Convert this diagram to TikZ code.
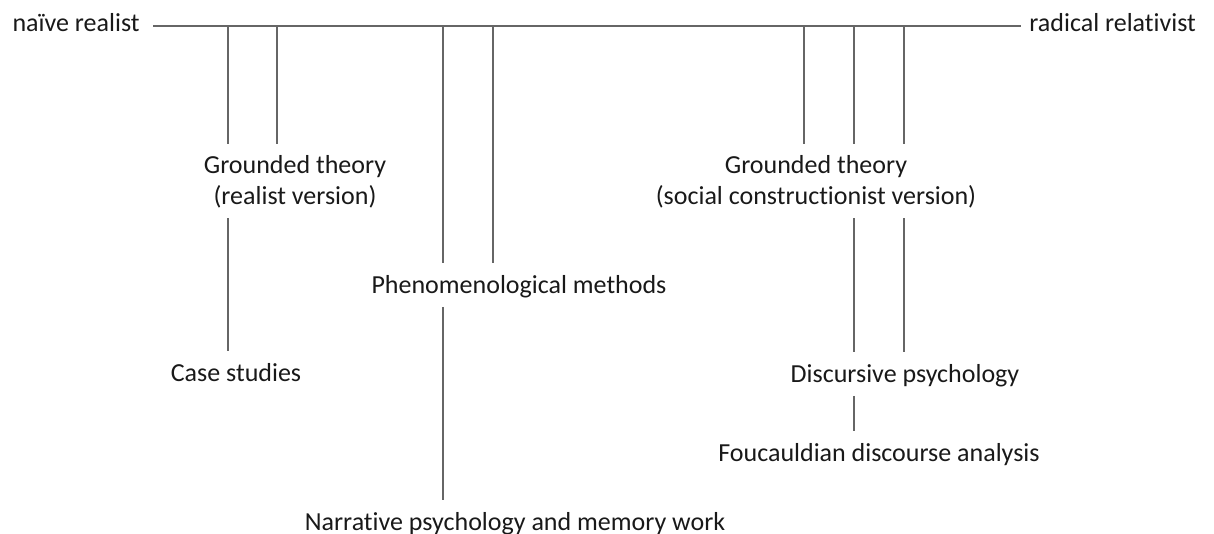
\documentclass[tikz,border=0pt]{standalone}
\usepackage{fontspec}
\setmainfont{Carlito}[Ligatures=NoCommon]
\tikzset{
  lbl/.style={font=\fontsize{13}{15.5}\selectfont, text=black!90, inner xsep=0pt, inner ysep=4.5pt, align=center},
  rail/.style={draw=black!60, line width=0.55pt},
  drop/.style={rail, shorten >=1.5pt}
}
\begin{document}
\begin{tikzpicture}[x=0.5pt,y=-0.5pt]
            \useasboundingbox (0,0) rectangle (1214,534);
            % the two ends of the scale
            \node[lbl, anchor=base east] (naive) at (140,32) {naïve realist};
            \node[lbl, anchor=base west] (radical) at (1029,32) {radical relativist};
            \coordinate (t1) at (228,26);
            \coordinate (t2) at (277,26);
            \coordinate (t3) at (443,26);
            \coordinate (t4) at (493,26);
            \coordinate (t5) at (804,26);
            \coordinate (t6) at (854,26);
            \coordinate (t7) at (904,26);
            \draw[rail, shorten <=6.5pt, shorten >=4pt] (naive.east |- t1) -- (radical.west |- t1);
            % methods
            \node[lbl, anchor=base] (gtr) at (295,205) {Grounded theory\\(realist version)};
            \node[lbl, anchor=base] (case) at (236,381) {Case studies};
            \node[lbl, anchor=base] (phen) at (519,293) {Phenomenological methods};
            \node[lbl, anchor=base] (narr) at (515,530) {Narrative psychology and memory work};
            \node[lbl, anchor=base] (gts) at (816,205) {Grounded theory\\(social constructionist version)};
            \node[lbl, anchor=base] (disc) at (905,382) {Discursive psychology};
            \node[lbl, anchor=base] (fouc) at (879,461) {Foucauldian discourse analysis};
            % drops from the scale
            \draw[drop] (t1) -- (t1 |- gtr.north);
            \draw[drop] (t2) -- (t2 |- gtr.north);
            \draw[drop] (t3) -- (t3 |- phen.north);
            \draw[drop] (t4) -- (t4 |- phen.north);
            \draw[drop] (t5) -- (t5 |- gts.north);
            \draw[drop] (t6) -- (t6 |- gts.north);
            \draw[drop] (t7) -- (t7 |- gts.north);
            % links between methods
            \draw[drop] (gtr.south -| t1) -- (t1 |- case.north);
            \draw[drop] (phen.south -| t3) -- (t3 |- narr.north);
            \draw[drop] (gts.south -| t6) -- (t6 |- disc.north);
            \draw[drop] (gts.south -| t7) -- (t7 |- disc.north);
            \draw[drop] (disc.south -| t6) -- (t6 |- fouc.north);
\end{tikzpicture}
\end{document}
